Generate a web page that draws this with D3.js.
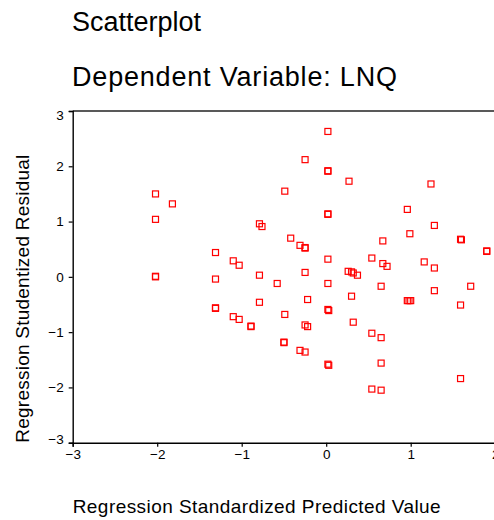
<!DOCTYPE html>
<html>
<head>
<meta charset="utf-8">
<script src="https://cdn.jsdelivr.net/npm/d3@7/dist/d3.min.js"></script>
<style>
  body { margin: 0; background: #fff; }
  svg { display: block; font-family: "Liberation Sans", Arial, sans-serif; }
</style>
</head>
<body>
<div id="chart"></div>
<script>
// regression standardized predicted value
var predicted = [
  -2.02, -1.82, -2.02, -2.02, -2.02,
  -1.31, -1.31, -1.31, -1.31,
  -1.10, -1.03, -1.10, -1.03, -0.89, -0.89,
  -0.79, -0.76, -0.79, -0.79,
  -0.58, -0.50, -0.50, -0.49, -0.49,
  -0.42, -0.31, -0.25, -0.25, -0.31, -0.25, -0.25, -0.25, -0.22, -0.25, -0.22,
  0.02, 0.02, 0.02, 0.02, 0.02, 0.02, 0.02, 0.02, 0.03, 0.02, 0.03,
  0.27, 0.26, 0.30, 0.32, 0.37, 0.30, 0.32,
  0.54, 0.54, 0.54,
  0.67, 0.67, 0.72, 0.65, 0.65, 0.65, 0.65,
  0.96, 0.99, 0.96, 0.98, 1.00,
  1.24, 1.28, 1.16, 1.28, 1.28,
  1.59, 1.60, 1.71, 1.59, 1.59,
  1.90, 1.90
];
// regression studentized residual
var residual = [
  1.50, 1.32, 1.04, 0.01, 0.00,
  0.44, -0.04, -0.56, -0.57,
  0.29, 0.21, -0.72, -0.77, -0.89, -0.90,
  0.96, 0.91, 0.03, -0.46,
  -0.12, -1.18, -1.19, 1.55, -0.68,
  0.70, 0.57, 0.52, 0.53, -1.33, -1.36, 2.12, 0.08, -0.41, -0.87, -0.90,
  2.63, 1.92, 1.91, 1.14, 1.13, 0.32, -0.12, -0.59, -0.61, -1.58, -1.60,
  1.73, 0.10, 0.09, 0.07, 0.03, -0.35, -0.82,
  0.34, -1.02, -2.03,
  0.65, 0.24, 0.19, -0.17, -1.10, -1.56, -2.05,
  1.22, 0.78, -0.43, -0.43, -0.43,
  1.68, 0.93, 0.27, 0.16, -0.25,
  0.68, 0.67, -0.17, -0.51, -1.84,
  0.47, 0.46
];
var xTicks = [-3, -2, -1, 0, 1, 2];
var yTicks = [-3, -2, -1, 0, 1, 2, 3];

var width = 494, height = 520;
var plotLeft = 72.7, plotRight = 495.2, plotTop = 111, plotBottom = 442.7;

var svg = d3.select("#chart").append("svg")
  .attr("width", width)
  .attr("height", height);

var x = d3.scaleLinear().domain([-3, 2]).range([plotLeft, plotRight]);
var y = d3.scaleLinear().domain([-3, 3]).range([plotBottom, plotTop]);

// titles
svg.append("text").attr("x", 72).attr("y", 31)
  .style("font-size", "27px").attr("fill", "#000")
  .text("Scatterplot");
svg.append("text").attr("x", 72).attr("y", 86)
  .style("font-size", "27px").attr("fill", "#000")
  .attr("textLength", 325).attr("lengthAdjust", "spacing")
  .text("Dependent Variable: LNQ");

// frame top line
svg.append("line")
  .attr("x1", plotLeft).attr("x2", width)
  .attr("y1", plotTop).attr("y2", plotTop)
  .attr("stroke", "#222").attr("stroke-width", 1.6);

// axes
var xAxis = svg.append("g")
  .attr("transform", "translate(0," + plotBottom + ")")
  .call(d3.axisBottom(x).tickValues(xTicks).tickSize(4).tickPadding(3).tickFormat(d3.format("d")));
var yAxis = svg.append("g")
  .attr("transform", "translate(" + plotLeft + ",0)")
  .call(d3.axisLeft(y).tickValues(yTicks).tickSize(4).tickPadding(5).tickFormat(d3.format("d")));

[xAxis, yAxis].forEach(function(g) {
  g.select(".domain").attr("stroke", "#000").attr("stroke-width", 1.4);
  g.selectAll(".tick line").attr("stroke", "#000").attr("stroke-width", 1.2);
  g.selectAll("text")
    .style("font-size", "13.5px")
    .style("font-family", "'Liberation Sans', Arial, sans-serif")
    .attr("fill", "#000");
});
// SPSS keeps end labels inside the axis
yAxis.selectAll(".tick text").attr("dy", function(d) {
  if (d == 3) return "0.62em";
  if (d == -3) return "0.05em";
  return "0.32em";
});

// axis titles
svg.append("text")
  .attr("x", plotLeft).attr("y", 513)
  .style("font-size", "19px").attr("fill", "#000")
  .attr("textLength", 368).attr("lengthAdjust", "spacing")
  .text("Regression Standardized Predicted Value");
svg.append("text")
  .attr("transform", "translate(29," + plotBottom + ") rotate(-90)")
  .style("font-size", "19px").attr("fill", "#000")
  .attr("textLength", 288).attr("lengthAdjust", "spacing")
  .text("Regression Studentized Residual");

// points
var pts = predicted.map(function(p, i) { return { x: p, y: residual[i] }; });
svg.append("g").selectAll("rect")
  .data(pts)
  .enter().append("rect")
  .attr("x", function(d) { return x(d.x) - 3; })
  .attr("y", function(d) { return y(d.y) - 3; })
  .attr("width", 6)
  .attr("height", 6)
  .attr("fill", "none")
  .attr("stroke", "#ff0000")
  .attr("stroke-width", 1.2);
</script>
</body>
</html>
